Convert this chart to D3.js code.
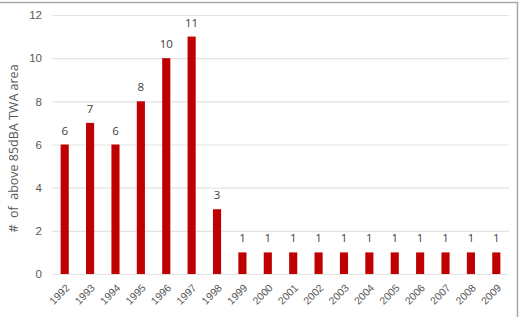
<!DOCTYPE html>
<html>
<head>
<meta charset="utf-8">
<script src="https://cdn.jsdelivr.net/npm/d3@7"></script>
<style>
  html, body { margin: 0; padding: 0; background: #fff; overflow: hidden; }
  svg { display: block; font-family: "Open Sans", "Liberation Sans", sans-serif; }
</style>
</head>
<body>
<div id="chart"></div>
<script>
let years = ['1992', '1993', '1994', '1995', '1996', '1997', '1998', '1999', '2000',
    '2001', '2002', '2003', '2004', '2005', '2006', '2007', '2008', '2009'];
let counts = [6, 7, 6, 8, 10, 11, 3, 1, 1, 1, 1, 1, 1, 1, 1, 1, 1, 1];
let yTicks = [0, 2, 4, 6, 8, 10, 12];

let width = 519,
    height = 317,
    margin = {left: 52, top: 15, right: 10, bottom: 43},
    innerWidth = width - margin.left - margin.right,
    innerHeight = height - margin.top - margin.bottom;

let data = years.map((y, i) => ({year: y, value: counts[i]}));

let svg = d3.select('#chart').append('svg')
    .attr('width', width)
    .attr('height', height);

// outer frame (top and right edges visible)
svg.append('path')
    .attr('d', `M0,2.5 H517.5 V${height}`)
    .attr('fill', 'none')
    .attr('stroke', '#a6a6a6')
    .attr('stroke-width', 1.5);

let g = svg.append('g')
    .attr('transform', `translate(${margin.left}, ${margin.top})`);

let x = d3.scaleBand()
    .domain(years)
    .range([0, innerWidth])
    .paddingInner(0.68)
    .paddingOuter(0.34);

let y = d3.scaleLinear()
    .domain([0, 12])
    .range([innerHeight, 0]);

// gridlines
g.append('g')
    .attr('class', 'grid')
    .selectAll('line')
    .data(yTicks)
    .join('line')
    .attr('x1', 0)
    .attr('x2', innerWidth)
    .attr('y1', d => y(d) + 0.5)
    .attr('y2', d => y(d) + 0.5)
    .attr('stroke', '#e3e3e3')
    .attr('stroke-width', 1.2);

// y axis labels
let yAxis = g.append('g')
    .call(d3.axisLeft(y).tickValues(yTicks).tickSize(0).tickPadding(10));
yAxis.select('.domain').remove();
yAxis.selectAll('text')
    .attr('fill', '#595959')
    .style('font-size', '11.5px');

// x axis labels, rotated -45 around their top-right end
let xAxis = g.append('g')
    .attr('transform', `translate(0, ${innerHeight})`)
    .call(d3.axisBottom(x).tickSize(0));
xAxis.select('.domain').remove();
xAxis.selectAll('text')
    .attr('fill', '#595959')
    .style('font-size', '10.5px')
    .attr('text-anchor', 'end')
    .attr('x', 0)
    .attr('y', 0)
    .attr('dy', '0.35em')
    .attr('transform', 'translate(3, 12) rotate(-45)');

// bars
g.append('g')
    .selectAll('rect')
    .data(data)
    .join('rect')
    .attr('x', d => x(d.year))
    .attr('y', d => y(d.value))
    .attr('width', x.bandwidth())
    .attr('height', d => y(0) - y(d.value))
    .attr('fill', '#c00000');

// value labels
g.append('g')
    .selectAll('text')
    .data(data)
    .join('text')
    .attr('x', d => x(d.year) + x.bandwidth() / 2)
    .attr('y', d => y(d.value) - 10)
    .attr('text-anchor', 'middle')
    .attr('fill', '#404040')
    .style('font-size', '11.5px')
    .text(d => d.value);

// y axis title
svg.append('text')
    .attr('transform', `translate(18, ${margin.top + innerHeight / 2 + 4}) rotate(-90)`)
    .attr('text-anchor', 'middle')
    .attr('fill', '#595959')
    .style('font-size', '12.5px')
    .attr('xml:space', 'preserve')
    .text('#  of  above 85dBA TWA area');
</script>
</body>
</html>
